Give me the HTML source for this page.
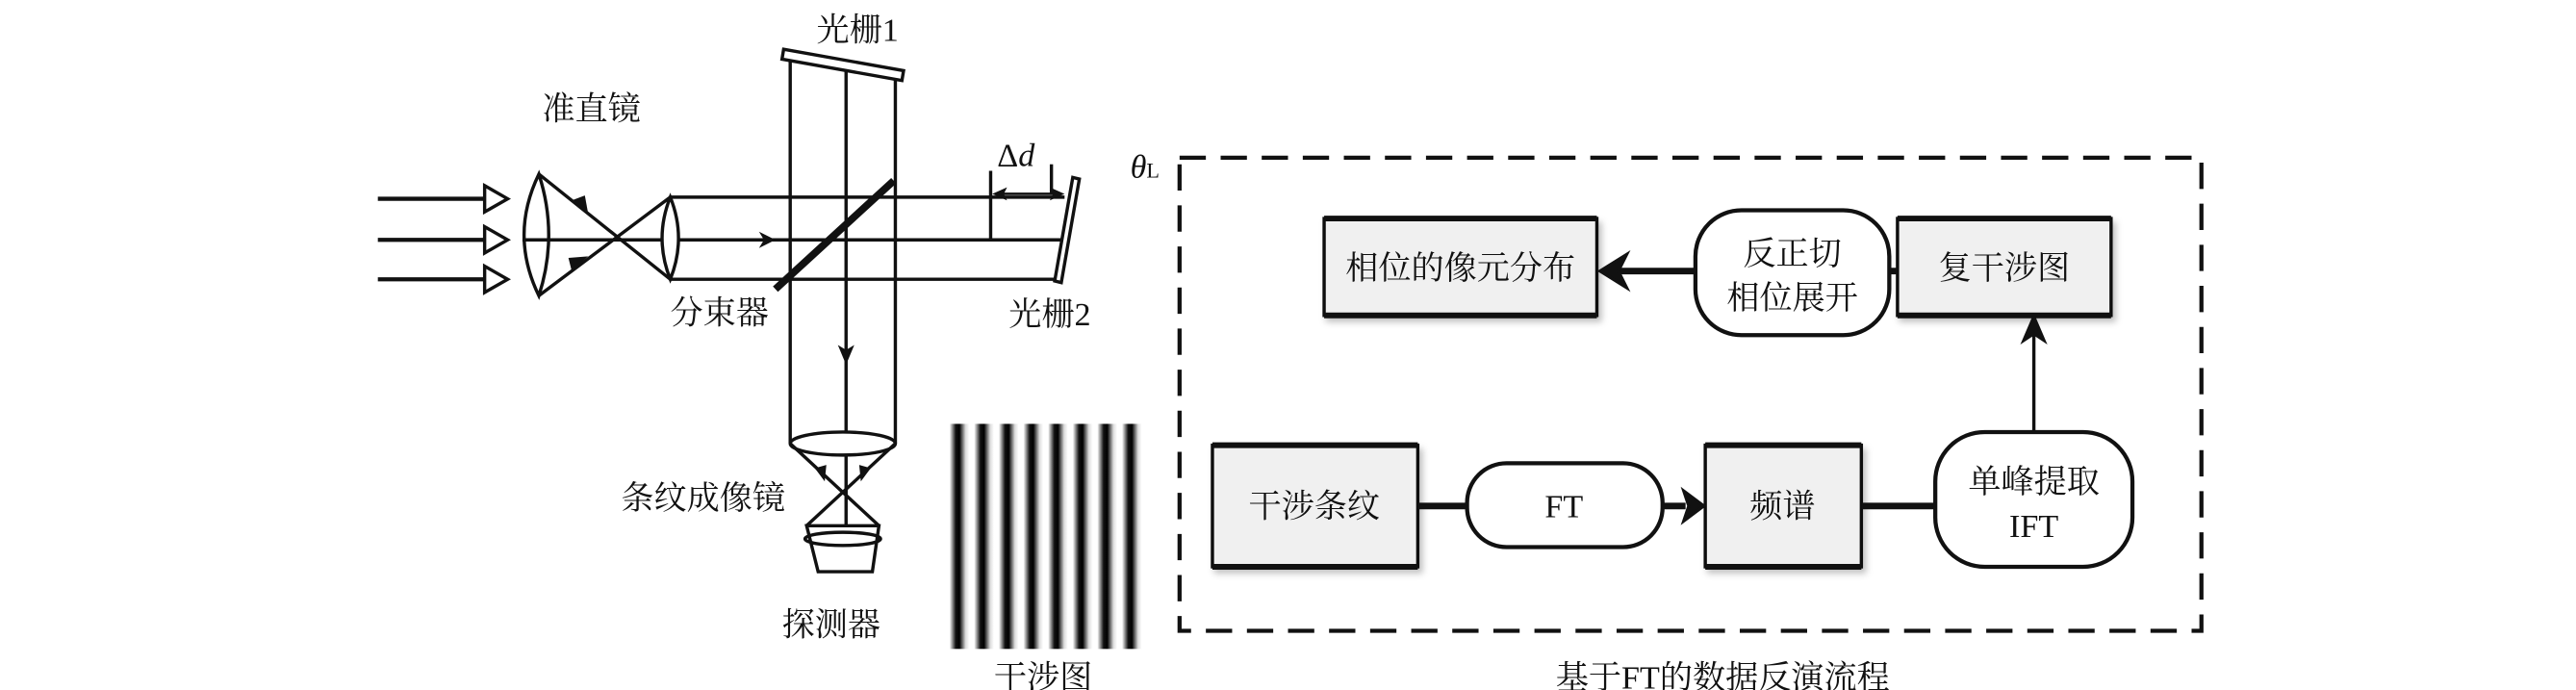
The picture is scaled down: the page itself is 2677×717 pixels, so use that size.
<!DOCTYPE html>
<html><head><meta charset="utf-8"><style>
html,body{margin:0;padding:0;background:#fff;}
svg{display:block;}
text{font-family:"Liberation Serif","Noto Serif CJK SC","Noto Sans CJK SC",serif;fill:#111;}
</style></head><body>
<svg width="2677" height="717" viewBox="0 0 1568 420" preserveAspectRatio="none" xmlns="http://www.w3.org/2000/svg">
<defs>
<linearGradient id="fr" gradientUnits="userSpaceOnUse" x1="575" y1="0" x2="590" y2="0" spreadMethod="repeat">
<stop offset="0" stop-color="#fff"/><stop offset="0.2" stop-color="#fff"/><stop offset="0.45" stop-color="#111"/><stop offset="0.6" stop-color="#000"/><stop offset="0.85" stop-color="#ddd"/><stop offset="1" stop-color="#fff"/>
</linearGradient>
<filter id="sh" x="-10%" y="-10%" width="130%" height="130%"><feDropShadow dx="2" dy="3" stdDeviation="2" flood-color="#000" flood-opacity="0.25"/></filter>
</defs>
<g stroke="#111" fill="none" stroke-width="2">
<line x1="230" y1="121" x2="295" y2="121" stroke-width="2.5"/>
<line x1="230" y1="146" x2="295" y2="146" stroke-width="2.5"/>
<line x1="230" y1="170" x2="295" y2="170" stroke-width="2.5"/>
<polygon points="295,113 309,121 295,129" fill="#fff"/>
<polygon points="295,138 309,146 295,154" fill="#fff"/>
<polygon points="295,162 309,170 295,178" fill="#fff"/>
<path d="M328,106 Q310,143 328,180 Q340,143 328,106Z" fill="#fff"/>
<line x1="328" y1="106" x2="408" y2="170"/>
<line x1="328" y1="180" x2="408" y2="120"/>
<line x1="318" y1="146" x2="650" y2="146"/>
<path d="M348,122 l10,8 l-2,-11z" fill="#111" stroke="none"/>
<path d="M348,165 l10,-9 l-12,1z" fill="#111" stroke="none"/>
<path d="M408,120 Q398,145 408,170 Q418,145 408,120Z" fill="#fff"/>
<line x1="408" y1="120" x2="648" y2="120"/>
<line x1="408" y1="170" x2="643" y2="170"/>
<path d="M462,141 l10,5 l-10,5 l3,-5z" fill="#111" stroke="none"/>
<line x1="481" y1="36" x2="481" y2="270"/>
<line x1="515" y1="40" x2="515" y2="320"/>
<line x1="545" y1="45" x2="545" y2="270"/>
<path d="M510,210 l5,12 l5,-12 l-5,3z" fill="#111" stroke="none"/>
<line x1="472" y1="176" x2="544" y2="110" stroke-width="4.5"/>
<path d="M477,30 L550,43 L549,49 L476,36Z" fill="#fff"/>
<path d="M653,108 L657,109 L646,172 L642,171Z" fill="#fff"/>
<line x1="603" y1="104" x2="603" y2="146"/>
<line x1="640" y1="100" x2="640" y2="118"/>
<line x1="606" y1="118" x2="646" y2="118" stroke-width="1.6"/>
<path d="M604,118 l9,-4 l-2,4 l2,4z" fill="#111" stroke="none"/>
<path d="M648,118 l-9,-4 l2,4 l-2,4z" fill="#111" stroke="none"/>
<ellipse cx="513" cy="270" rx="32" ry="7" fill="#fff"/>
<line x1="481" y1="270" x2="535" y2="320"/>
<line x1="545" y1="270" x2="491" y2="320"/>
<path d="M496,285 l6,8 l1,-10z" fill="#111" stroke="none"/>
<path d="M530,285 l-6,8 l-1,-10z" fill="#111" stroke="none"/>
<ellipse cx="513" cy="328" rx="23" ry="4" fill="#fff"/>
<path d="M491,320 L535,320 L531,348 L498,348Z"/>
</g>
<rect x="575" y="258" width="120" height="137" fill="url(#fr)"/>
<rect x="718" y="96" width="622" height="288" fill="none" stroke="#111" stroke-width="2.5" stroke-dasharray="16,9"/>
<g stroke="#111" stroke-width="2">
<rect x="806" y="133" width="166" height="59" fill="#f0f0f0" filter="url(#sh)"/>
<line x1="806" y1="133" x2="972" y2="133" stroke-width="3.5"/><line x1="806" y1="192" x2="972" y2="192" stroke-width="3.5"/>
<rect x="1155" y="133" width="130" height="59" fill="#f0f0f0" filter="url(#sh)"/>
<line x1="1155" y1="133" x2="1285" y2="133" stroke-width="3.5"/><line x1="1155" y1="192" x2="1285" y2="192" stroke-width="3.5"/>
<rect x="738" y="271" width="125" height="74" fill="#f0f0f0" filter="url(#sh)"/>
<line x1="738" y1="271" x2="863" y2="271" stroke-width="3.5"/><line x1="738" y1="345" x2="863" y2="345" stroke-width="3.5"/>
<rect x="1038" y="271" width="95" height="74" fill="#f0f0f0" filter="url(#sh)"/>
<line x1="1038" y1="271" x2="1133" y2="271" stroke-width="3.5"/><line x1="1038" y1="345" x2="1133" y2="345" stroke-width="3.5"/>
<rect x="1032" y="128" width="118" height="76" rx="28" fill="#fff" stroke-width="2.5"/>
<rect x="893" y="282" width="119" height="51" rx="24" fill="#fff" stroke-width="2.5"/>
<rect x="1178" y="263" width="120" height="82" rx="30" fill="#fff" stroke-width="2.5"/>
<line x1="1150" y1="165" x2="1155" y2="165" stroke-width="4"/>
<line x1="985" y1="165" x2="1032" y2="165" stroke-width="4"/>
<path d="M974,165 l16,-10 l-5,10 l5,10z" fill="#111"/>
<line x1="863" y1="308" x2="893" y2="308" stroke-width="4"/>
<line x1="1012" y1="308" x2="1026" y2="308" stroke-width="4"/>
<path d="M1037,308 l-12,-9 l3,9 l-3,9z" fill="#111"/>
<line x1="1133" y1="308" x2="1178" y2="308" stroke-width="4"/>
<line x1="1238" y1="263" x2="1238" y2="202" stroke-width="2"/>
<path d="M1238,193 l-6,14 l6,-4 l6,4z" fill="#111"/>
</g>
<g font-size="20">
<text x="330" y="73">准直镜</text>
<text x="497" y="25">光栅1</text>
<text x="408" y="197">分束器</text>
<text x="614" y="198">光栅2</text>
<text x="378" y="310">条纹成像镜</text>
<text x="476" y="387">探测器</text>
<text x="605" y="419">干涉图</text>
<text x="947" y="419">基于FT的数据反演流程</text>
<text x="607" y="101">Δ<tspan font-style="italic">d</tspan></text>
<text x="688" y="108" font-style="italic">θ<tspan font-style="normal" font-size="13">L</tspan></text>
<text x="889" y="170" text-anchor="middle">相位的像元分布</text>
<text x="1091" y="161" text-anchor="middle">反正切</text>
<text x="1091" y="188" text-anchor="middle">相位展开</text>
<text x="1220" y="170" text-anchor="middle">复干涉图</text>
<text x="800" y="315" text-anchor="middle">干涉条纹</text>
<text x="952" y="315" text-anchor="middle">FT</text>
<text x="1085" y="315" text-anchor="middle">频谱</text>
<text x="1238" y="300" text-anchor="middle">单峰提取</text>
<text x="1238" y="327" text-anchor="middle">IFT</text>
</g>
</svg>
</body></html>
